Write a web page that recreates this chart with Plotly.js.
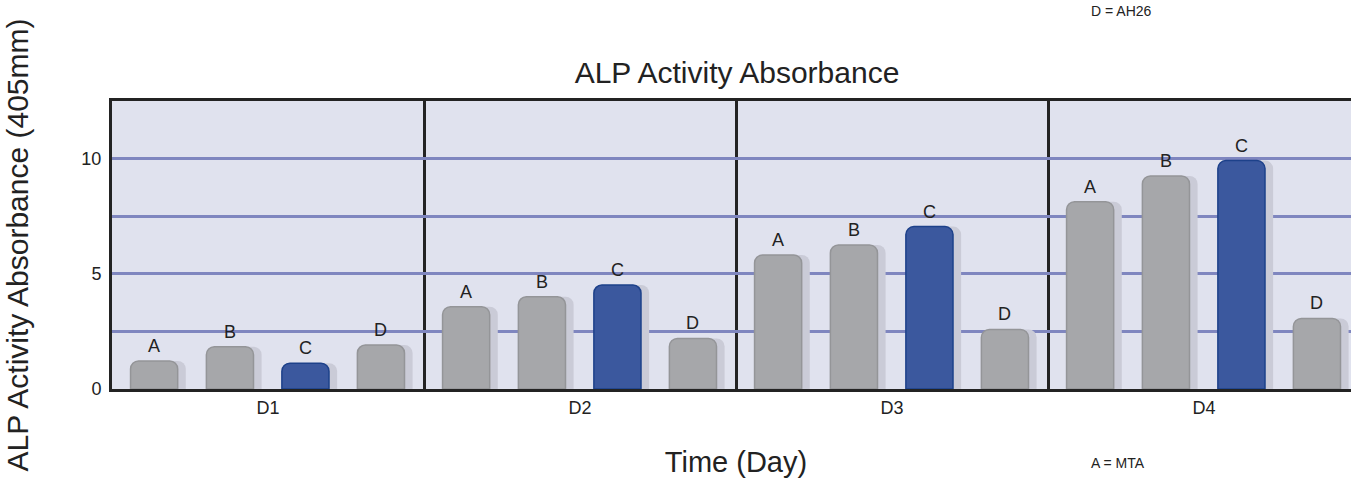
<!DOCTYPE html>
<html>
<head>
<meta charset="utf-8">
<script src="https://cdn.plot.ly/plotly-3.0.1.min.js"></script>
<style>
html,body{margin:0;padding:0;overflow:hidden;background:#fff;}
#chart{width:1380px;height:481px;}
</style>
</head>
<body>
<div id="chart"></div>
<script>
// Data
var days = ['D1', 'D2', 'D3', 'D4'];
var seriesNames = ['A', 'B', 'C', 'D'];
var valuesA = [1.22, 3.58, 5.83, 8.14];
var valuesB = [1.84, 4.01, 6.26, 9.26];
var valuesC = [1.12, 4.52, 7.06, 9.93];
var valuesD = [1.91, 2.20, 2.59, 3.07];
var yTickVals = [0, 2.5, 5, 7.5, 10];
var yTickText = ['0', '', '5', '', '10'];

var allValues = [valuesA, valuesB, valuesC, valuesD];
var barColors = ['#a6a7aa', '#a6a7aa', '#3b589e', '#a6a7aa'];
var lineColors = ['#949598', '#949598', '#1d418a', '#949598'];
var centers = [-0.365, -0.122, 0.120, 0.362];
var barWidth = 0.151;
var shadowShift = 0.026;

var font = '"Liberation Sans", Arial, sans-serif';
var traces = [];
var annotations = [];

// shadows
for (var s = 0; s < 4; s++) {
  traces.push({
    type: 'bar', x: days, y: allValues[s],
    width: barWidth, offset: centers[s] - barWidth / 2 + shadowShift,
    marker: {color: '#cacbd7', cornerradius: 8, line: {width: 0}},
    hoverinfo: 'skip', showlegend: false
  });
}
// bars
for (var s = 0; s < 4; s++) {
  traces.push({
    type: 'bar', x: days, y: allValues[s], name: seriesNames[s],
    width: barWidth, offset: centers[s] - barWidth / 2,
    marker: {color: barColors[s], cornerradius: 8, line: {color: lineColors[s], width: 1.5}},
    showlegend: false
  });
  for (var d = 0; d < days.length; d++) {
    annotations.push({
      xref: 'x', yref: 'y', x: d + centers[s], y: allValues[s][d],
      text: seriesNames[s], showarrow: false, yanchor: 'bottom', yshift: 3,
      font: {family: font, size: 18, color: '#222'}
    });
  }
}

// key texts (paper coordinates, plot area is 1248 x 288 px starting at 112, 101)
annotations.push({
  xref: 'paper', yref: 'paper', x: (1089 - 112) / 1248, xanchor: 'left',
  y: 1 + (101 - 1) / 288, yanchor: 'top',
  text: 'D = AH26', showarrow: false, font: {family: font, size: 14, color: '#222'}
});
annotations.push({
  xref: 'paper', yref: 'paper', x: (1089 - 112) / 1248, xanchor: 'left',
  y: -(463 - 389) / 288, yanchor: 'middle',
  text: 'A = MTA', showarrow: false, font: {family: font, size: 14, color: '#222'}
});

var layout = {
  width: 1380, height: 481,
  margin: {l: 112, r: 20, t: 101, b: 92},
  paper_bgcolor: '#ffffff',
  plot_bgcolor: '#e0e2ee',
  barmode: 'overlay',
  title: {text: 'ALP Activity Absorbance', x: 737 / 1380, xanchor: 'center', y: 1 - 72 / 481, yanchor: 'middle',
          font: {family: font, size: 30, color: '#222'}},
  xaxis: {
    type: 'category', range: [-0.5, 3.5], fixedrange: true,
    tickson: 'boundaries', ticks: '', showgrid: true, gridcolor: '#232323', gridwidth: 3,
    showline: true, mirror: true, linecolor: '#232323', linewidth: 3,
    tickfont: {family: font, size: 18, color: '#222'},
    title: {text: 'Time (Day)', font: {family: font, size: 29, color: '#222'}, standoff: 36}
  },
  yaxis: {
    range: [0, 12.52], fixedrange: true,
    tickvals: yTickVals, ticktext: yTickText, ticks: '', ticklabelstandoff: 4,
    showgrid: true, gridcolor: '#7f86bf', gridwidth: 3, zeroline: false,
    showline: true, mirror: true, linecolor: '#232323', linewidth: 3,
    tickfont: {family: font, size: 18, color: '#222'},
    title: {text: 'ALP Activity Absorbance (405mm)', font: {family: font, size: 30, color: '#222'}, standoff: 44}
  },
  annotations: annotations,
  showlegend: false
};

Plotly.newPlot('chart', traces, layout, {displayModeBar: false, staticPlot: true});
</script>
</body>
</html>
